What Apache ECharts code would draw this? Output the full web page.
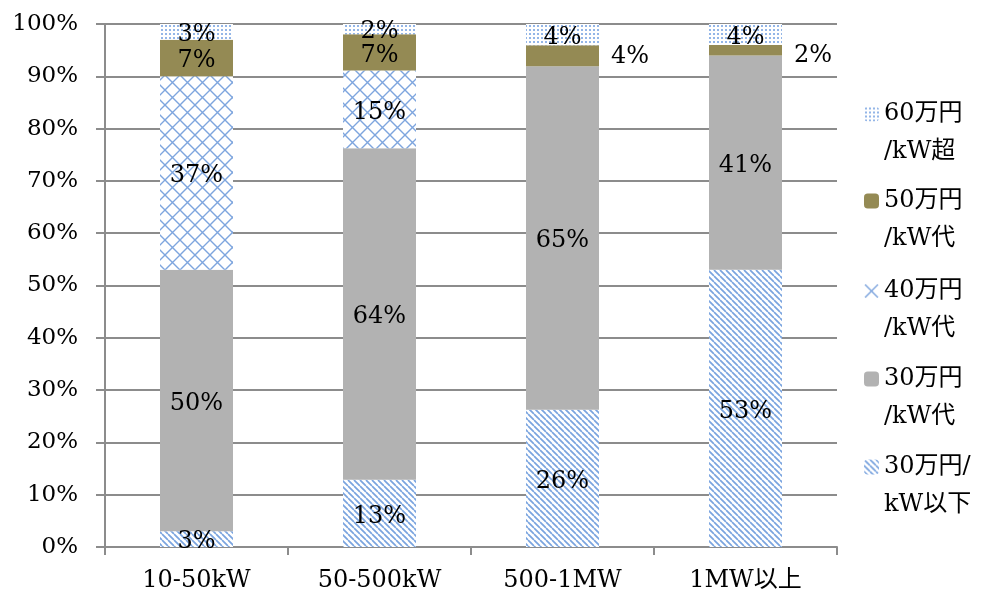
<!DOCTYPE html>
<html>
<head>
<meta charset="utf-8">
<script src="https://cdn.jsdelivr.net/npm/echarts@6/dist/echarts.min.js"></script>
<style>
  html, body { margin: 0; padding: 0; background: #ffffff; }
  #chart { width: 986px; height: 595px; }
</style>
</head>
<body>
<div id="chart"></div>
<script>
// Price bands per installed-capacity class (share of projects, %)
const categories = ['10-50kW', '50-500kW', '500-1MW', '1MW以上'];
const seriesNames = ['30万円/kW以下', '30万円/kW代', '40万円/kW代', '50万円/kW代', '60万円/kW超'];
const legendText = ['30万円/\nkW以下', '30万円\n/kW代', '40万円\n/kW代', '50万円\n/kW代', '60万円\n/kW超'];

const below30 = [3, 13, 26, 53];
const band30 = [50, 64, 65, 41];
const band40 = [37, 15, 0, 0];
const band50 = [7, 7, 4, 2];
const over60 = [3, 2, 4, 4];

const yTickStep = 10;

const FONT = '"DejaVu Serif", "Noto Sans CJK JP", serif';
const BLUE = '#7aa4df';

// --- fill patterns -------------------------------------------------------
function makeCanvas(w, h) {
  const c = document.createElement('canvas');
  c.width = w; c.height = h;
  const ctx = c.getContext('2d');
  ctx.fillStyle = '#ffffff';
  ctx.fillRect(0, 0, w, h);
  return [c, ctx];
}

function hatchPattern() {
  const s = 6;
  const [c, ctx] = makeCanvas(s, s);
  ctx.strokeStyle = BLUE;
  ctx.lineWidth = 1.7;
  ctx.beginPath();
  for (let k = -1; k <= 1; k++) {
    ctx.moveTo(k * s, 0);
    ctx.lineTo(k * s + s, s);
  }
  ctx.stroke();
  return { image: c, repeat: 'repeat' };
}

function crossPattern() {
  const s = 15;
  const [c, ctx] = makeCanvas(s, s);
  ctx.strokeStyle = '#7ea5de';
  ctx.lineWidth = 1.4;
  ctx.beginPath();
  for (let k = -1; k <= 1; k++) {
    ctx.moveTo(k * s, 0);
    ctx.lineTo(k * s + s, s);
    ctx.moveTo(k * s + s, 0);
    ctx.lineTo(k * s, s);
  }
  ctx.stroke();
  return { image: c, repeat: 'repeat' };
}

function dotPattern() {
  const s = 4;
  const [c, ctx] = makeCanvas(s, s);
  ctx.fillStyle = '#94b6e7';
  ctx.fillRect(1, 1, 2, 2);
  return { image: c, repeat: 'repeat' };
}

const fills = [hatchPattern(), '#b2b2b2', crossPattern(), '#948a54', dotPattern()];
const rawSeries = [below30, band30, band40, band50, over60];

// column totals, used to draw each column as a 100% stack
const totals = categories.map((_, i) => rawSeries.reduce((s, arr) => s + arr[i], 0));

// labels for the thin 50万円 segments sit beside the bar
const outsideLabel = { 3: { 2: [0, 1], 3: [0, 6] } };

const series = rawSeries.map((arr, si) => ({
  name: seriesNames[si],
  type: 'bar',
  stack: 'share',
  barWidth: 73,
  itemStyle: { color: fills[si] },
  emphasis: { disabled: true },
  data: arr.map((v, i) => {
    const item = { value: v / totals[i] * 100, raw: v };
    const o = outsideLabel[si] && outsideLabel[si][i];
    if (o) {
      item.label = { position: 'right', distance: 12, offset: o };
    }
    return item;
  }),
  label: {
    show: true,
    position: 'inside',
    offset: [0, 3],
    color: '#000',
    fontFamily: FONT,
    fontSize: 24,
    formatter: p => (p.data.raw ? p.data.raw + '%' : '')
  }
}));

// one legend block per series, top to bottom in reverse stacking order;
// the leading blank line keeps the marker level with the first text line
const legendIconCenters = [467, 379, 291, 201, 114];
const legends = seriesNames.map((name, si) => ({
  data: [name],
  orient: 'vertical',
  left: 864,
  top: legendIconCenters[si] - 57,
  padding: 0,
  itemWidth: 15,
  itemHeight: 15,
  itemGap: 0,
  selectedMode: false,
  formatter: () => '\n' + legendText[si],
  textStyle: {
    fontFamily: FONT,
    fontSize: 24,
    color: '#000',
    lineHeight: 38
  }
}));

const chart = echarts.init(document.getElementById('chart'));
chart.setOption({
  animation: false,
  backgroundColor: '#ffffff',
  grid: { left: 105, right: 149, top: 24, bottom: 48, containLabel: false },
  legend: legends,
  xAxis: {
    type: 'category',
    data: categories,
    axisLine: { show: true, lineStyle: { color: '#8c8c8c', width: 2 } },
    axisTick: { show: true, alignWithLabel: false, length: 8, lineStyle: { color: '#8c8c8c', width: 2 } },
    axisLabel: { margin: 22, color: '#000', fontFamily: FONT, fontSize: 24 }
  },
  yAxis: {
    type: 'value',
    min: 0,
    max: 100,
    interval: yTickStep,
    axisLine: { show: true, lineStyle: { color: '#8c8c8c', width: 2 } },
    axisTick: { show: true, length: 9, lineStyle: { color: '#8c8c8c', width: 2 } },
    splitLine: { show: true, lineStyle: { color: '#8c8c8c', width: 2 } },
    axisLabel: { margin: 27, color: '#000', fontFamily: FONT, fontSize: 23, formatter: '{value}%' }
  },
  series: series
});
</script>
</body>
</html>
